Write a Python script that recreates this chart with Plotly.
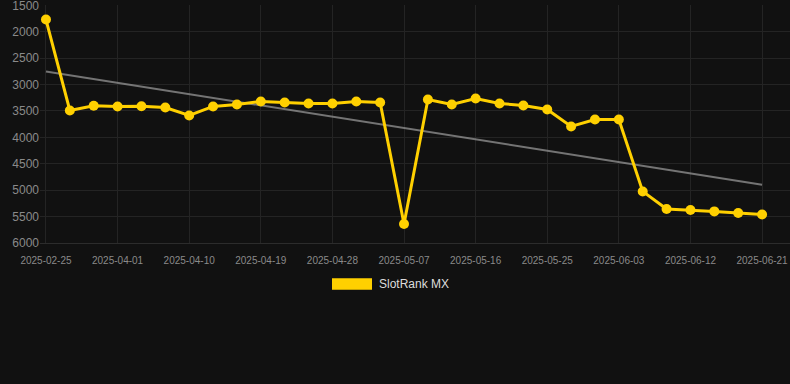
import plotly.graph_objects as go

dates = [
    "2025-02-25", "2025-03-26", "2025-03-29", "2025-04-01", "2025-04-04", "2025-04-07",
    "2025-04-10", "2025-04-13", "2025-04-16", "2025-04-19", "2025-04-22", "2025-04-25",
    "2025-04-28", "2025-05-01", "2025-05-04", "2025-05-07", "2025-05-10", "2025-05-13",
    "2025-05-16", "2025-05-19", "2025-05-22", "2025-05-25", "2025-05-28", "2025-05-31",
    "2025-06-03", "2025-06-06", "2025-06-09", "2025-06-12", "2025-06-15", "2025-06-18",
    "2025-06-21",
]
rank_mx = [
    1770, 3490, 3400, 3415, 3410, 3434,
    3585, 3415, 3377, 3320, 3339, 3358,
    3358, 3320, 3340, 5641, 3283, 3377,
    3264, 3358, 3396, 3472, 3794, 3661,
    3661, 5024, 5357, 5376, 5402, 5433,
    5459,
]
trend_dates = [dates[0], dates[-1]]
trend_values = [2752, 4895]
x_tick_labels = dates[::3]
y_ticks = [1500, 2000, 2500, 3000, 3500, 4000, 4500, 5000, 5500, 6000]
series_name = "SlotRank MX"

LINE_COLOR = "#FFD000"
BG = "#111111"
GRID = "#242424"
TICK = "#8a8a8a"

fig = go.Figure()
fig.add_trace(go.Scatter(
    x=trend_dates, y=trend_values, mode="lines",
    line=dict(color="rgba(150,150,150,0.75)", width=2),
    showlegend=False, hoverinfo="skip",
))
fig.add_trace(go.Scatter(
    x=dates, y=rank_mx, mode="lines+markers", name=series_name,
    line=dict(color=LINE_COLOR, width=3),
    marker=dict(color=LINE_COLOR, size=10),
    showlegend=False,
))

# legend drawn as a swatch + label
fig.add_shape(type="rect", xref="paper", yref="paper",
              x0=(332 - 40) / 750, x1=(372 - 40) / 750,
              y0=-(278.3 - 243) / 238, y1=-(289.7 - 243) / 238,
              fillcolor=LINE_COLOR, line=dict(width=0))
fig.add_annotation(text=series_name, xref="paper", yref="paper",
                   x=(377 - 40) / 750, y=-(284 - 243) / 238,
                   xanchor="left", yanchor="middle", showarrow=False,
                   font=dict(color="#dddddd", size=12, family="Liberation Sans, Arial, sans-serif"))

fig.update_layout(
    width=790, height=384,
    margin=dict(l=40, r=0, t=5, b=141),
    paper_bgcolor=BG, plot_bgcolor=BG,
    font=dict(family="Liberation Sans, Arial, sans-serif", color=TICK),
    showlegend=False,
)
fig.update_xaxes(
    type="category", categoryorder="array", categoryarray=dates,
    tickmode="array", tickvals=x_tick_labels, ticktext=x_tick_labels,
    range=[-0.25, 31.17],
    showgrid=True, gridcolor=GRID, gridwidth=1,
    zeroline=False, showline=True, linecolor="#2c2c2c",
    tickfont=dict(size=10, color=TICK), ticks="", ticklabelstandoff=8,
    ticklabeloverflow="allow",
)
fig.update_yaxes(
    range=[6000, 1494], tickmode="array", tickvals=y_ticks,
    showgrid=True, gridcolor=GRID, gridwidth=1, zeroline=False,
    tickfont=dict(size=12, color=TICK), ticks="",
    ticklabeloverflow="allow",
)

fig.write_html(
    "out.html",
    config={"displayModeBar": False},
    post_script="document.body.style.margin='0';document.body.style.background='#111111';",
)
